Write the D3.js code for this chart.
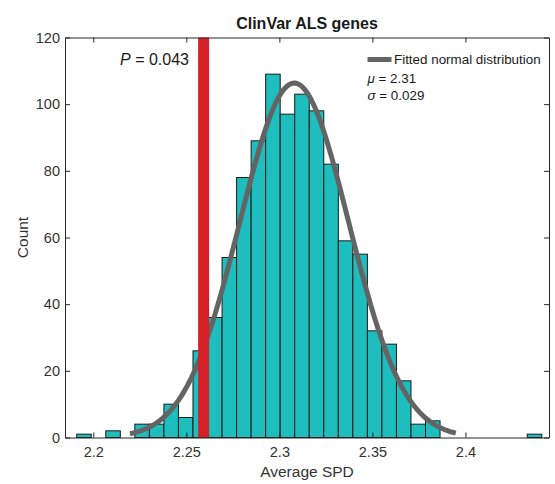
<!DOCTYPE html>
<html>
<head>
<meta charset="utf-8">
<script src="https://cdn.jsdelivr.net/npm/d3@7"></script>
<style>
  body { margin: 0; background: #fff; }
  svg { display: block; font-family: Arial, "Liberation Sans", sans-serif; }
</style>
</head>
<body>
<div id="chart"></div>
<script>
// Histogram of average SPD (1000 random gene sets)
const binStart = 2.1911;
const binWidth = 0.00781;
const counts = [1, 0, 2, 0, 4, 4, 10, 6, 26, 36, 54, 78, 89, 109, 97, 103,
                98, 82, 59, 55, 32, 28, 17, 4, 5, 0, 0, 0, 0, 0, 0, 1];
const observed = 2.2593;      // red line
const pLabel = "0.043";
const muFit = 2.308, sigmaFit = 0.0293;   // fitted normal
const muLabel = "2.31", sigmaLabel = "0.029";
const curveFrom = 2.2197, curveTo = 2.3948;
const xTicks = [2.2, 2.25, 2.3, 2.35, 2.4];
const yTicks = [0, 20, 40, 60, 80, 100, 120];

const W = 555, H = 484;
const margin = {top: 37.5, right: 6, bottom: 46.5, left: 65},
    width = W - margin.left - margin.right,
    height = H - margin.top - margin.bottom;

const axisCol = "#262626";

const svg = d3.select("#chart").append("svg")
    .attr("width", W).attr("height", H);
const g = svg.append("g")
    .attr("transform", "translate(" + margin.left + "," + margin.top + ")");

const x = d3.scaleLinear().domain([2.1848, 2.4449]).range([0, width]);
const y = d3.scaleLinear().domain([0, 120]).range([height, 0]);

// bars
const bins = counts.map((c, i) => ({x0: binStart + i * binWidth, x1: binStart + (i + 1) * binWidth, n: c}))
    .filter(d => d.n > 0);
g.selectAll("rect.bar")
    .data(bins)
    .join("rect")
    .attr("class", "bar")
    .attr("x", d => x(d.x0))
    .attr("y", d => y(d.n))
    .attr("width", d => x(d.x1) - x(d.x0))
    .attr("height", d => y(0) - y(d.n))
    .attr("fill", "#1ebebe")
    .attr("stroke", "#1a1a1a")
    .attr("stroke-width", 1);

// fitted normal curve, scaled to counts
const total = d3.sum(counts);
const pdf = v => total * binWidth / (sigmaFit * Math.sqrt(2 * Math.PI)) *
    Math.exp(-0.5 * Math.pow((v - muFit) / sigmaFit, 2));
const curve = d3.range(0, 201).map(i => curveFrom + (curveTo - curveFrom) * i / 200);
g.append("path")
    .datum(curve)
    .attr("fill", "none")
    .attr("stroke", "#646464")
    .attr("stroke-width", 5)
    .attr("d", d3.line().x(d => x(d)).y(d => y(pdf(d))));

// observed value
g.append("line")
    .attr("x1", x(observed)).attr("x2", x(observed))
    .attr("y1", 0).attr("y2", height)
    .attr("stroke", "#d71f27")
    .attr("stroke-width", 11);

// axes (MATLAB-style inward ticks, boxed)
function styleAxis(sel) {
    sel.select(".domain").attr("stroke", axisCol);
    sel.selectAll(".tick line").attr("stroke", axisCol);
    sel.selectAll("text").attr("fill", "#333").style("font-size", "14.5px");
}
g.append("g")
    .attr("transform", "translate(0," + height + ")")
    .call(d3.axisBottom(x).tickValues(xTicks).tickFormat(d3.format("")).tickSize(-5).tickPadding(9).tickSizeOuter(0))
    .call(styleAxis);
g.append("g")
    .call(d3.axisTop(x).tickValues(xTicks).tickFormat("").tickSize(-5).tickSizeOuter(0))
    .call(styleAxis);
g.append("g")
    .call(d3.axisLeft(y).tickValues(yTicks).tickSize(-5).tickPadding(5).tickSizeOuter(0))
    .call(styleAxis);
g.append("g")
    .attr("transform", "translate(" + width + ",0)")
    .call(d3.axisRight(y).tickValues(yTicks).tickFormat("").tickSize(-5).tickSizeOuter(0))
    .call(styleAxis);

// labels
svg.append("text")
    .attr("x", margin.left + width / 2).attr("y", 28.5)
    .attr("text-anchor", "middle")
    .attr("fill", "#1a1a1a")
    .style("font-size", "16px").style("font-weight", "bold")
    .text("ClinVar ALS genes");
svg.append("text")
    .attr("x", margin.left + width / 2).attr("y", 477)
    .attr("text-anchor", "middle")
    .attr("fill", "#333")
    .style("font-size", "15.5px")
    .text("Average SPD");
svg.append("text")
    .attr("transform", "translate(28," + (margin.top + height / 2) + ") rotate(-90)")
    .attr("text-anchor", "middle")
    .attr("fill", "#333")
    .style("font-size", "15.5px")
    .text("Count");

// P value
const pt = svg.append("text")
    .attr("x", 189).attr("y", 64.5)
    .attr("text-anchor", "end")
    .attr("fill", "#1a1a1a")
    .style("font-size", "16px");
pt.append("tspan").style("font-style", "italic").text("P");
pt.append("tspan").text(" = " + pLabel);

// legend
svg.append("line")
    .attr("x1", 367.5).attr("x2", 391.5)
    .attr("y1", 59.5).attr("y2", 59.5)
    .attr("stroke", "#646464").attr("stroke-width", 5);
svg.append("text")
    .attr("x", 394).attr("y", 64)
    .attr("fill", "#1a1a1a")
    .style("font-size", "13.4px")
    .text("Fitted normal distribution");
const mt = svg.append("text")
    .attr("x", 367.5).attr("y", 83)
    .attr("fill", "#1a1a1a").style("font-size", "13.4px");
mt.append("tspan").style("font-style", "italic").text("μ");
mt.append("tspan").text(" = " + muLabel);
const st = svg.append("text")
    .attr("x", 367.5).attr("y", 100)
    .attr("fill", "#1a1a1a").style("font-size", "13.4px");
st.append("tspan").style("font-style", "italic").text("σ");
st.append("tspan").text(" = " + sigmaLabel);
</script>
</body>
</html>
